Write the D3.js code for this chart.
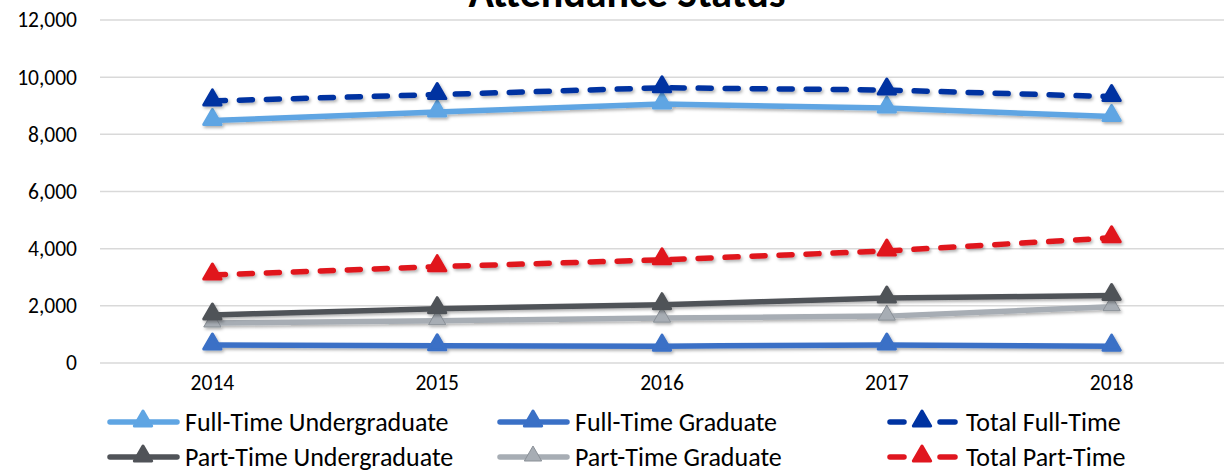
<!DOCTYPE html>
<html>
<head>
<meta charset="utf-8">
<script src="https://cdn.jsdelivr.net/npm/d3@7"></script>
<style>
  body { margin: 0; background: #fff; }
  text { font-family: Carlito, "Open Sans", "Liberation Sans", sans-serif; fill: #000; }
</style>
</head>
<body>
<div id="chart"></div>
<script>
// Chart data
var years = ['2014', '2015', '2016', '2017', '2018'];
var yTicks = [0, 2000, 4000, 6000, 8000, 10000, 12000];

var fullTimeUndergrad = [8480, 8780, 9060, 8920, 8620];
var fullTimeGrad = [630, 600, 590, 630, 590];
var totalFullTime = [9170, 9390, 9630, 9550, 9320];
var partTimeUndergrad = [1680, 1900, 2040, 2270, 2360];
var partTimeGrad = [1400, 1480, 1570, 1640, 1970];
var totalPartTime = [3080, 3370, 3610, 3920, 4380];

var seriesNames = [
  'Full-Time Undergraduate', 'Full-Time Graduate', 'Total Full-Time',
  'Part-Time Undergraduate', 'Part-Time Graduate', 'Total Part-Time'
];
var seriesValues = [fullTimeUndergrad, fullTimeGrad, totalFullTime,
  partTimeUndergrad, partTimeGrad, totalPartTime];
var seriesColors = ['#5fa5e3', '#3a70c6', '#0033a1', '#505358', '#a7adb4', '#e0161f'];
var seriesDashed = [false, false, true, false, false, true];

// Draw order: back to front
var drawOrder = [4, 3, 1, 5, 0, 2];

var W = 1224, H = 474;
var margin = { top: 20, right: 0, bottom: 111, left: 100 };

var svg = d3.select('#chart').append('svg')
  .attr('width', W)
  .attr('height', H);

var defs = svg.append('defs');
var shadow = defs.append('filter').attr('id', 'shadow')
  .attr('x', '-20%').attr('y', '-20%').attr('width', '140%').attr('height', '160%');
shadow.append('feDropShadow')
  .attr('dx', 1.5).attr('dy', 2).attr('stdDeviation', 1.5)
  .attr('flood-color', '#000').attr('flood-opacity', 0.3);

var x = d3.scaleBand()
  .domain(years)
  .range([margin.left, W - margin.right]);

var y = d3.scaleLinear()
  .domain([0, 12000])
  .range([H - margin.bottom, margin.top]);

// Grid lines
svg.append('g')
  .selectAll('line')
  .data(yTicks)
  .enter()
  .append('line')
  .attr('x1', margin.left)
  .attr('x2', W - margin.right)
  .attr('y1', function (d) { return y(d); })
  .attr('y2', function (d) { return y(d); })
  .attr('stroke', '#d9d9d9')
  .attr('stroke-width', 1.5);

// Y axis labels
var yAxis = svg.append('g')
  .attr('transform', 'translate(' + (margin.left - 10) + ',0)')
  .call(d3.axisLeft(y).tickValues(yTicks).tickSize(0).tickPadding(13).tickFormat(d3.format(',')));
yAxis.select('.domain').remove();
yAxis.selectAll('text')
  .attr('font-size', 21.5)
  .style('font-family', 'Carlito, "Open Sans", "Liberation Sans", sans-serif')
  .attr('fill', '#000');

// X axis labels
var xAxis = svg.append('g')
  .attr('transform', 'translate(0,' + (H - margin.bottom) + ')')
  .call(d3.axisBottom(x).tickSize(0).tickPadding(12));
xAxis.select('.domain').remove();
xAxis.selectAll('text')
  .attr('font-size', 21.5)
  .style('font-family', 'Carlito, "Open Sans", "Liberation Sans", sans-serif')
  .attr('fill', '#000');

var line = d3.line()
  .x(function (d, i) { return x(years[i]) + x.bandwidth() / 2; })
  .y(function (d) { return y(d); });

var tri = d3.symbol().type(d3.symbolTriangle).size(130);

drawOrder.forEach(function (s) {
  var g = svg.append('g').attr('filter', 'url(#shadow)');
  g.append('path')
    .datum(seriesValues[s])
    .attr('fill', 'none')
    .attr('stroke', seriesColors[s])
    .attr('stroke-width', 5.5)
    .attr('stroke-linecap', 'round')
    .attr('stroke-linejoin', 'round')
    .attr('stroke-dasharray', seriesDashed[s] ? '13,14' : null)
    .attr('d', line);

  g.selectAll('.marker')
    .data(seriesValues[s])
    .enter()
    .append('path')
    .attr('class', 'marker')
    .attr('d', tri)
    .attr('transform', function (d, i) {
      return 'translate(' + (x(years[i]) + x.bandwidth() / 2) + ',' + (y(d) - 1) + ')';
    })
    .attr('fill', seriesColors[s])
    .attr('stroke', s === 4 ? '#8a9097' : seriesColors[s])
    .attr('stroke-width', s === 4 ? 1 : 3)
    .attr('stroke-linejoin', 'round');
});

// Title
svg.append('text')
  .attr('x', 627)
  .attr('y', 7)
  .attr('text-anchor', 'middle')
  .attr('font-size', 42)
  .attr('font-weight', 'bold')
  .text('Attendance Status');

// Legend
var legendX = [107, 497, 887];
var legendY = [422, 457];
seriesNames.forEach(function (name, s) {
  var lx = legendX[s % 3], ly = legendY[Math.floor(s / 3)];
  var lg = svg.append('g').attr('transform', 'translate(' + lx + ',' + ly + ')');
  if (seriesDashed[s]) {
    [[3, 17], [53, 68]].forEach(function (seg) {
      lg.append('line')
        .attr('x1', seg[0]).attr('x2', seg[1])
        .attr('y1', 0).attr('y2', 0)
        .attr('stroke', seriesColors[s])
        .attr('stroke-width', 5.5)
        .attr('stroke-linecap', 'round');
    });
  } else {
    lg.append('line')
      .attr('x1', 3).attr('x2', 70)
      .attr('y1', 0).attr('y2', 0)
      .attr('stroke', seriesColors[s])
      .attr('stroke-width', 5.5)
      .attr('stroke-linecap', 'round');
  }
  lg.append('path')
    .attr('d', tri)
    .attr('transform', 'translate(' + (seriesDashed[s] ? 35 : 36) + ',-1)')
    .attr('fill', seriesColors[s])
    .attr('stroke', s === 4 ? '#8a9097' : seriesColors[s])
    .attr('stroke-width', s === 4 ? 1 : 3)
    .attr('stroke-linejoin', 'round');
  lg.append('text')
    .attr('x', seriesDashed[s] ? 79 : 78)
    .attr('y', 0)
    .attr('dy', '0.35em')
    .attr('font-size', 26)
    .text(name);
});
</script>
</body>
</html>
